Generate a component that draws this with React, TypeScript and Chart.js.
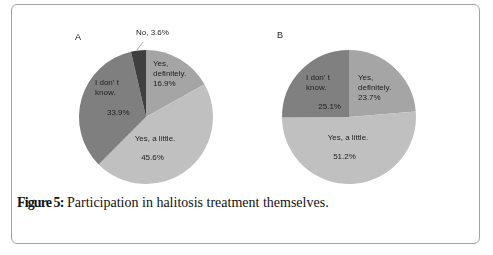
import React, { useEffect, useRef } from "react";
import { Chart, registerables } from "chart.js";

Chart.register(...registerables);

// ---- data ----
const categoriesA = ["Yes, definitely.", "Yes, a little.", "I don’t know.", "No."];
const valuesA = [16.9, 45.6, 33.9, 3.6];
const categoriesB = ["Yes, definitely.", "Yes, a little.", "I don’t know."];
const valuesB = [23.7, 51.2, 25.1];
const colorsA = ["#a5a5a5", "#c0c0c0", "#7f7f7f", "#3f3f3f"];
const colorsB = ["#a5a5a5", "#c0c0c0", "#808080"];
const panelLabels = ["A", "B"];
const captionBold = "Figure 5:";
const captionText = " Participation in halitosis treatment themselves.";

const pct = (v: number) => `${v.toFixed(1)}%`;

type Line = { text: string; ox: number; oy: number; align: CanvasTextAlign };

// label layout relative to pie centre
const linesA: Line[] = [
  { text: "Yes,", ox: 7, oy: -53, align: "left" },
  { text: "definitely.", ox: 7, oy: -43, align: "left" },
  { text: pct(valuesA[0]), ox: 7, oy: -33.5, align: "left" },
  { text: "Yes, a little.", ox: 9, oy: 22, align: "center" },
  { text: pct(valuesA[1]), ox: 6.5, oy: 41, align: "center" },
  { text: "I don’ t", ox: -51, oy: -34, align: "left" },
  { text: "know.", ox: -51, oy: -24, align: "left" },
  { text: pct(valuesA[2]), ox: -39, oy: -4, align: "left" },
  { text: `No, ${pct(valuesA[3])}`, ox: -10, oy: -84, align: "left" },
];
const leadersA = [[-9, -67, -3, -75]];

const linesB: Line[] = [
  { text: "Yes,", ox: 9, oy: -39, align: "left" },
  { text: "definitely.", ox: 9, oy: -29.7, align: "left" },
  { text: pct(valuesB[0]), ox: 9, oy: -19.7, align: "left" },
  { text: "Yes, a little.", ox: -1, oy: 21, align: "center" },
  { text: pct(valuesB[1]), ox: -4.5, oy: 40, align: "center" },
  { text: "I don’ t", ox: -43, oy: -39, align: "left" },
  { text: "know.", ox: -43, oy: -29.7, align: "left" },
  { text: pct(valuesB[2]), ox: -30.7, oy: -10.7, align: "left" },
];
const leadersB: number[][] = [];

function makeLabelPlugin(lines: Line[], leaders: number[][]) {
  return {
    id: "sliceLabels",
    afterDatasetsDraw(chart: any) {
      const meta = chart.getDatasetMeta(0);
      const arc = meta.data[0];
      if (!arc) return;
      const { x: cx, y: cy } = arc.getProps(["x", "y"], true);
      const ctx = chart.ctx as CanvasRenderingContext2D;
      ctx.save();
      ctx.strokeStyle = "#8c8c8c";
      ctx.lineWidth = 0.8;
      leaders.forEach(([x1, y1, x2, y2]) => {
        ctx.beginPath();
        ctx.moveTo(cx + x1, cy + y1);
        ctx.lineTo(cx + x2, cy + y2);
        ctx.stroke();
      });
      ctx.font = "8px 'Liberation Sans', Arial, sans-serif";
      ctx.fillStyle = "#1e1e1e";
      ctx.textBaseline = "middle";
      lines.forEach((l) => {
        ctx.textAlign = l.align;
        ctx.fillText(l.text, cx + l.ox, cy + l.oy);
      });
      ctx.restore();
    },
  };
}

function Pie(props: {
  labels: string[];
  values: number[];
  colors: string[];
  lines: Line[];
  leaders: number[][];
  padding: { left: number; right: number; top: number; bottom: number };
  style: React.CSSProperties;
}) {
  const ref = useRef<HTMLCanvasElement>(null);
  useEffect(() => {
    if (!ref.current) return;
    const chart = new Chart(ref.current, {
      type: "pie",
      data: {
        labels: props.labels,
        datasets: [
          {
            data: props.values,
            backgroundColor: props.colors,
            borderWidth: 0,
            hoverOffset: 0,
          },
        ],
      },
      options: {
        responsive: false,
        maintainAspectRatio: false,
        animation: false,
        layout: { padding: props.padding },
        plugins: { legend: { display: false }, tooltip: { enabled: false } },
      },
      plugins: [makeLabelPlugin(props.lines, props.leaders)],
    });
    return () => chart.destroy();
  }, []);
  return <canvas ref={ref} width={180} height={170} style={props.style} />;
}

export default function App() {
  return (
    <div
      style={{
        position: "absolute",
        left: 0,
        top: 0,
        width: 493,
        height: 255,
        background: "#fff",
        overflow: "hidden",
      }}
    >
      <div
        style={{
          position: "absolute",
          left: 11,
          top: 4,
          width: 469,
          height: 240,
          boxSizing: "border-box",
          border: "1.5px solid #a3a3a3",
          borderRadius: 6,
        }}
      />
      <Pie
        labels={categoriesA}
        values={valuesA}
        colors={colorsA}
        lines={linesA}
        leaders={leadersA}
        padding={{ left: 19, right: 27, top: 30, bottom: 6 }}
        style={{ position: "absolute", left: 60, top: 20 }}
      />
      <Pie
        labels={categoriesB}
        values={valuesB}
        colors={colorsB}
        lines={linesB}
        leaders={leadersB}
        padding={{ left: 22, right: 24, top: 30, bottom: 6 }}
        style={{ position: "absolute", left: 260, top: 20 }}
      />
      <div
        style={{
          position: "absolute",
          left: 75,
          top: 32,
          font: "9px 'Liberation Sans', Arial, sans-serif",
          color: "#222",
        }}
      >
        {panelLabels[0]}
      </div>
      <div
        style={{
          position: "absolute",
          left: 277,
          top: 30,
          font: "9px 'Liberation Sans', Arial, sans-serif",
          color: "#222",
        }}
      >
        {panelLabels[1]}
      </div>
      <div
        style={{
          position: "absolute",
          left: 17,
          top: 195,
          fontFamily: "'Liberation Serif', 'Times New Roman', serif",
          fontSize: 14,
          lineHeight: "16px",
          color: "#111",
          whiteSpace: "nowrap",
        }}
      >
        <span style={{ fontWeight: "bold", letterSpacing: "-0.9px" }}>{captionBold}</span>
        <span>{captionText}</span>
      </div>
    </div>
  );
}
